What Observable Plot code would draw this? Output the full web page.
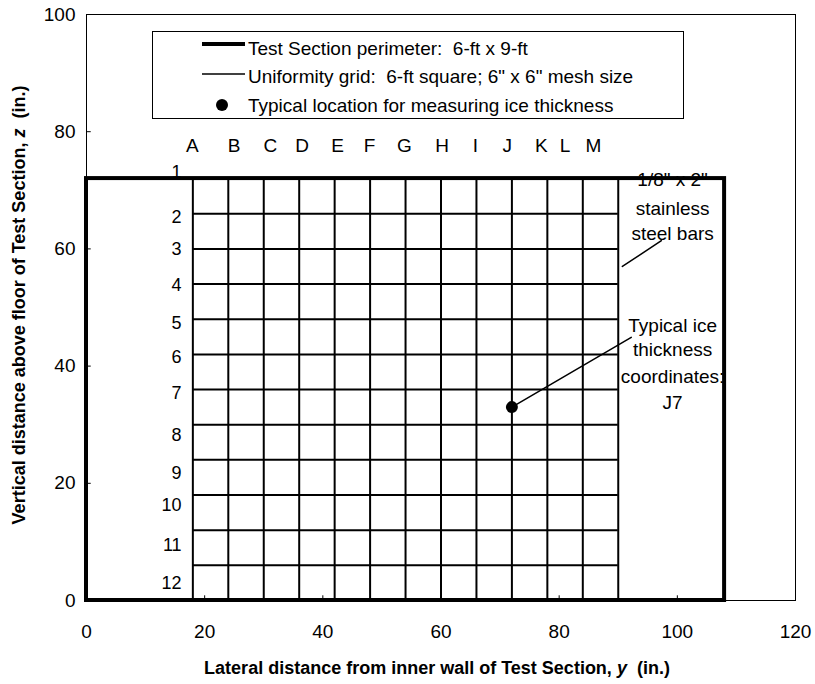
<!DOCTYPE html>
<html><head><meta charset="utf-8">
<script src="https://cdn.jsdelivr.net/npm/d3@7"></script>
<script src="https://cdn.jsdelivr.net/npm/@observablehq/plot@0.6"></script>
<style>
body{margin:0;background:#fff;font-family:"Liberation Sans",Arial,sans-serif;}
#wrap{position:relative;width:815px;height:684px;overflow:hidden;}
#legend{position:absolute;left:152px;top:31px;}
</style></head>
<body><div id="wrap"></div>
<script>
// ---- data (inches) ----
const xTicks = [0, 20, 40, 60, 80, 100, 120];
const yTicks = [0, 20, 40, 60, 80, 100];
const perimeterY = [0, 108];          // Test Section 9-ft wide
const perimeterZ = [0, 72];           // Test Section 6-ft high
const gridExtentY = [18, 90];         // 6-ft square uniformity grid
const gridExtentZ = [0, 72];
const gridColumnY = [18, 24, 30, 36, 42, 48, 54, 60, 66, 72, 78, 84, 90];
const gridRowZ = [72, 66, 60, 54, 48, 42, 36, 30, 24, 18, 12, 6, 0];
const columnLetters = ["A","B","C","D","E","F","G","H","I","J","K","L","M"];
const columnLabelY = [17.9, 25.0, 31.1, 36.5, 42.5, 47.9, 53.8, 60.2, 65.8, 71.2, 77.0, 81.0, 85.8];
const columnLabelZ = 77.6;
const rowNumbers = ["1","2","3","4","5","6","7","8","9","10","11","12"];
const rowLabelZ = [73.0, 65.4, 59.9, 53.8, 47.3, 41.5, 35.3, 28.2, 21.7, 16.2, 9.4, 2.9];
const rowLabelY = 16.1;
const iceSample = [{y: 72, z: 33, label: "J7"}];
const barNote = ["1/8\" x 2\"", "stainless", "steel bars"];
const barNoteZ = [71.7, 66.9, 62.6];
const iceNote = ["Typical ice", "thickness", "coordinates:", "J7"];
const iceNoteZ = [46.9, 42.7, 38.1, 33.8];
const noteY = 99.2;
const barLeaderY = [90.7, 97.3], barLeaderZ = [57.0, 61.4];
const iceLeaderY = [72, 92.2], iceLeaderZ = [33, 44.9];
const legendItems = ["Test Section perimeter:  6-ft x 9-ft",
                     "Uniformity grid:  6-ft square; 6\" x 6\" mesh size",
                     "Typical location for measuring ice thickness"];

const font = "Liberation Sans, Arial, sans-serif";
const zip = (a, b) => a.map((v, i) => ({y: v, z: b[i]}));

const chart = Plot.plot({
  width: 815, height: 684,
  marginLeft: 86, marginRight: 20, marginTop: 14, marginBottom: 84,
  x: {domain: [0, 120]},
  y: {domain: [0, 100]},
  style: {fontFamily: font, fontSize: "19px", color: "black", background: "white"},
  marks: [
    Plot.frame({stroke: "black", strokeWidth: 1}),
    Plot.axisX(xTicks, {tickSize: 0, tickPadding: 24, label: null, fontSize: 19}),
    Plot.axisY(yTicks, {tickSize: 0, tickPadding: 11, label: null, fontSize: 19}),
    Plot.ruleY(yTicks, {x1: 0, x2: 0.8, stroke: "black"}),
    Plot.ruleX(xTicks, {y1: 0, y2: 0.8, stroke: "black"}),
    Plot.text(barNote, {x: () => noteY, y: (d, i) => barNoteZ[i], text: d => d, fontSize: 19, textAnchor: "middle"}),
    Plot.text(iceNote, {x: () => noteY, y: (d, i) => iceNoteZ[i], text: d => d, fontSize: 19, textAnchor: "middle"}),
    Plot.ruleX(gridColumnY, {y1: gridExtentZ[0], y2: gridExtentZ[1], stroke: "black", strokeWidth: 2}),
    Plot.ruleY(gridRowZ, {x1: gridExtentY[0], x2: gridExtentY[1], stroke: "black", strokeWidth: 2}),
    Plot.rect([{x1: perimeterY[0], x2: perimeterY[1], y1: perimeterZ[0], y2: perimeterZ[1]}],
      {x1: "x1", x2: "x2", y1: "y1", y2: "y2", fill: "none", stroke: "black", strokeWidth: 4}),
    Plot.line(zip(barLeaderY, barLeaderZ), {x: "y", y: "z", stroke: "black", strokeWidth: 1.5}),
    Plot.line(zip(iceLeaderY, iceLeaderZ), {x: "y", y: "z", stroke: "black", strokeWidth: 1.5}),
    Plot.dot(iceSample, {x: "y", y: "z", r: 6, fill: "black", stroke: "none"}),
    Plot.text(columnLetters, {x: (d, i) => columnLabelY[i], y: () => columnLabelZ, text: d => d, fontSize: 19}),
    Plot.text(rowNumbers, {x: () => rowLabelY, y: (d, i) => rowLabelZ[i], text: d => d, fontSize: 18, textAnchor: "end"})
  ]
});

const wrap = document.getElementById("wrap");
wrap.appendChild(chart);

// axis titles
const svg = d3.select(chart);
const yt = svg.append("text")
  .attr("transform", "translate(20,305) rotate(-90)")
  .attr("text-anchor", "middle").attr("dominant-baseline", "middle")
  .attr("font-family", font).attr("font-weight", "bold").attr("font-size", 18)
  .style("white-space", "pre");
yt.append("tspan").text("Vertical distance above floor of Test Section, ");
yt.append("tspan").attr("font-style", "italic").text("z");
yt.append("tspan").text("  (in.)");

const xt = svg.append("text")
  .attr("x", 437).attr("y", 669)
  .attr("text-anchor", "middle").attr("dominant-baseline", "middle")
  .attr("font-family", font).attr("font-weight", "bold").attr("font-size", 18)
  .style("white-space", "pre");
xt.append("tspan").text("Lateral distance from inner wall of Test Section, ");
xt.append("tspan").attr("font-style", "italic").text("y");
xt.append("tspan").text("  (in.)");

// legend overlay
const lg = d3.select(wrap).append("svg").attr("id", "legend")
  .attr("width", 532).attr("height", 88);
lg.append("rect").attr("x", 0.5).attr("y", 0.5).attr("width", 531).attr("height", 87)
  .attr("fill", "white").attr("stroke", "black");
lg.append("line").attr("x1", 50).attr("x2", 93).attr("y1", 13).attr("y2", 13)
  .attr("stroke", "black").attr("stroke-width", 4);
lg.append("line").attr("x1", 50).attr("x2", 93).attr("y1", 43).attr("y2", 43)
  .attr("stroke", "black").attr("stroke-width", 1.5);
lg.append("circle").attr("cx", 70).attr("cy", 74).attr("r", 6).attr("fill", "black");
const legendRowY = [19, 47, 76];
legendItems.forEach((t, i) => {
  lg.append("text").attr("x", 96).attr("y", legendRowY[i])
    .attr("dominant-baseline", "middle").attr("font-family", font).attr("font-size", 19)
    .style("white-space", "pre").text(t);
});
</script>
</body></html>
